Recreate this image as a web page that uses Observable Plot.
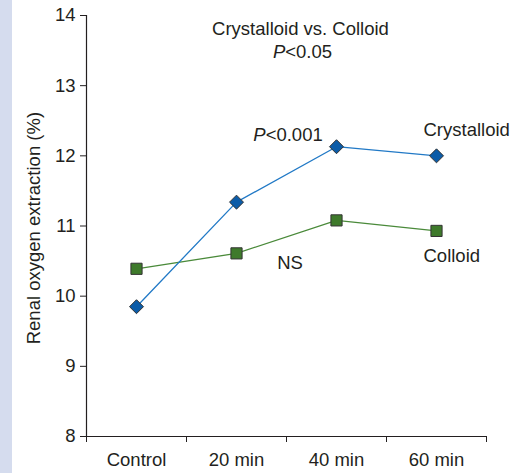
<!DOCTYPE html>
<html>
<head>
<meta charset="utf-8">
<script src="https://cdn.jsdelivr.net/npm/d3@7"></script>
<script src="https://cdn.jsdelivr.net/npm/@observablehq/plot@0.6"></script>
<style>
  html, body { margin: 0; padding: 0; }
  body { background: linear-gradient(to right, #d5dcee 0, #d5dcee 12px, #ffffff 12px); width: 512px; height: 473px; overflow: hidden; }
  svg { display: block; }
</style>
</head>
<body>
<div id="chart"></div>
<script>
const categories = ["Control", "20 min", "40 min", "60 min"];
const crystalloid = [9.85, 11.34, 12.13, 12.0];
const colloid = [10.39, 10.61, 11.08, 10.93];
const yTicks = [8, 9, 10, 11, 12, 13, 14];
const yLabel = "Renal oxygen extraction (%)";
const centeredNotes = [
  {x: 2.14, y: 13.81, text: "Crystalloid vs. Colloid"},
  {x: 2.16, y: 13.48, text: "P<0.05"},
  {x: 2.015, y: 12.3, text: "P<0.001"},
  {x: 2.035, y: 10.47, text: "NS"}
];
const seriesLabels = [
  {x: 3.37, y: 12.37, text: "Crystalloid"},
  {x: 3.37, y: 10.57, text: "Colloid"}
];

const crysRows = categories.map((c, i) => ({i: i + 0.5, v: crystalloid[i]}));
const collRows = categories.map((c, i) => ({i: i + 0.5, v: colloid[i]}));
const font = "'Liberation Sans', Arial, Helvetica, sans-serif";
const fs = 18.5;

const chart = Plot.plot({
  width: 512,
  height: 473,
  marginLeft: 86,
  marginRight: 26,
  marginTop: 15,
  marginBottom: 37,
  x: {domain: [0, 4]},
  y: {domain: [8, 14]},
  style: {fontFamily: font, fontSize: fs + "px", background: "transparent", color: "#231f20"},
  marks: [
    Plot.axisY({ticks: yTicks, tickSize: 6, tickPadding: 5, tickFormat: d => String(d), label: null, fontSize: fs, stroke: "#231f20"}),
    Plot.axisX({ticks: [0, 1, 2, 3, 4], tickSize: 6, tickFormat: () => "", label: null, stroke: "#231f20"}),
    Plot.axisX({ticks: categories.map((c, i) => i + 0.5), tickSize: 0, tickPadding: 16,
      tickFormat: d => categories[Math.floor(d)], label: null, fontSize: fs}),
    Plot.ruleX([0], {stroke: "#231f20", strokeWidth: 1.2}),
    Plot.ruleY([8], {stroke: "#231f20", strokeWidth: 1.2}),
    Plot.line(collRows, {x: "i", y: "v", stroke: "#4a8a3a", strokeWidth: 1.3}),
    Plot.line(crysRows, {x: "i", y: "v", stroke: "#2179c6", strokeWidth: 1.3}),
    Plot.dot(collRows, {x: "i", y: "v", symbol: "square", r: 6.3, fill: "#3e7a2b", stroke: "#333", strokeWidth: 1}),
    Plot.dot(crysRows, {x: "i", y: "v", symbol: "diamond2", r: 6.3, fill: "#0c5ca8", stroke: "#333", strokeWidth: 1}),
    Plot.text(centeredNotes, {x: "x", y: "y", text: "text", textAnchor: "middle", fontSize: fs, fill: "#231f20"}),
    Plot.text(seriesLabels, {x: "x", y: "y", text: "text", textAnchor: "start", fontSize: fs, fill: "#231f20"}),
    Plot.text([yLabel], {x: -0.52, y: 10.97, text: d => d, rotate: -90, fontSize: fs, fill: "#231f20"})
  ]
});

d3.select(chart).selectAll("text").each(function() {
  const t = d3.select(this);
  const s = t.text();
  if (s.startsWith("P<") && t.selectAll("tspan").empty()) {
    t.text(null);
    t.append("tspan").attr("font-style", "italic").text("P");
    t.append("tspan").text(s.slice(1));
  }
});

document.getElementById("chart").appendChild(chart);
</script>
</body>
</html>
